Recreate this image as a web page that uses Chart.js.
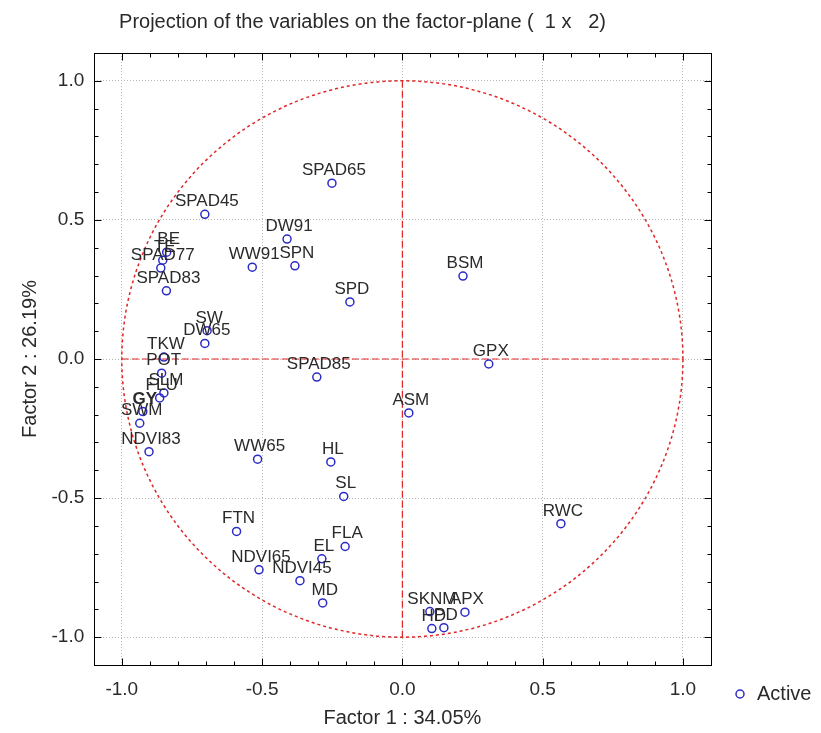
<!DOCTYPE html>
<html>
<head>
<meta charset="utf-8">
<script src="https://cdn.jsdelivr.net/npm/chart.js@4.4.1/dist/chart.umd.min.js"></script>
<style>
    html, body { margin: 0; padding: 0; background: #fff; }
    #wrap { width: 821px; height: 733px; }
</style>
</head>
<body>
<div id="wrap"><canvas id="pcaChart" width="821" height="733"></canvas></div>
<script>
// ====== Data ======
const varNames = ['SPAD65', 'SPAD45', 'DW91', 'WW91', 'SPN', 'BSM', 'SPD', 'BE', 'TE', 'SPAD77',
    'SPAD83', 'SW', 'DW65', 'TKW', 'POT', 'SLM', 'FLU', 'GY', 'SWM', 'NDVI83',
    'SPAD85', 'GPX', 'ASM', 'WW65', 'HL', 'SL', 'FTN', 'FLA', 'EL', 'NDVI65',
    'NDVI45', 'MD', 'RWC', 'SKNM', 'HD', 'PD', 'APX'];
const factor1 = [-0.251, -0.704, -0.411, -0.535, -0.383, 0.216, -0.187, -0.840, -0.854, -0.861,
    -0.841, -0.696, -0.704, -0.850, -0.858, -0.850, -0.865, -0.925, -0.936, -0.903,
    -0.305, 0.308, 0.023, -0.516, -0.255, -0.209, -0.591, -0.204, -0.287, -0.511,
    -0.365, -0.284, 0.565, 0.098, 0.105, 0.148, 0.223];
const factor2 = [0.632, 0.520, 0.431, 0.330, 0.335, 0.298, 0.205, 0.384, 0.355, 0.327,
    0.245, 0.102, 0.056, 0.007, -0.051, -0.122, -0.140, -0.189, -0.231, -0.333,
    -0.065, -0.018, -0.194, -0.360, -0.370, -0.494, -0.620, -0.674, -0.718, -0.758,
    -0.797, -0.877, -0.592, -0.908, -0.969, -0.966, -0.910];
const boldNames = ['GY'];
const tickValues = [-1.0, -0.5, 0.0, 0.5, 1.0];
const axisMin = -1.1;
const axisMax = 1.1;

const FONT = 'Arial, "Liberation Sans", sans-serif';
const TEXT = '#2a2a2a';
const RED = '#e02626';

// ====== Circle, reference lines, frame, ticks, legend ======
const pcaDecor = {
    id: 'pcaDecor',
    beforeDatasetsDraw(chart) {
        const { ctx, scales: { x, y } } = chart;
        const x0 = x.getPixelForValue(0), y0 = y.getPixelForValue(0);
        ctx.save();
        ctx.strokeStyle = RED;
        ctx.lineWidth = 1.2;
        ctx.setLineDash([7, 3]);
        ctx.beginPath();
        ctx.moveTo(x.getPixelForValue(-1), y0);
        ctx.lineTo(x.getPixelForValue(1), y0);
        ctx.moveTo(x0, y.getPixelForValue(1));
        ctx.lineTo(x0, y.getPixelForValue(-1));
        ctx.stroke();
        ctx.lineWidth = 1.5;
        ctx.setLineDash([3, 3]);
        ctx.beginPath();
        ctx.ellipse(x0, y0, x.getPixelForValue(1) - x0, y0 - y.getPixelForValue(1), 0, 0, Math.PI * 2);
        ctx.stroke();
        ctx.restore();
    },
    afterDatasetsDraw(chart) {
        const { ctx } = chart;
        const meta = chart.getDatasetMeta(0);
        ctx.save();
        ctx.fillStyle = TEXT;
        ctx.textAlign = 'center';
        ctx.textBaseline = 'alphabetic';
        meta.data.forEach((el, i) => {
            const bold = boldNames.includes(varNames[i]);
            ctx.font = (bold ? 'bold ' : '') + '17px ' + FONT;
            ctx.fillText(varNames[i], el.x + 2, el.y - 8);
        });
        ctx.restore();
    },
    afterDraw(chart) {
        const { ctx, chartArea: a, scales: { x, y } } = chart;
        ctx.save();
        // frame
        const L = Math.round(a.left) + 0.5, R = Math.round(a.right) + 0.5;
        const T = Math.round(a.top) + 0.5, B = Math.round(a.bottom) + 0.5;
        ctx.strokeStyle = '#000';
        ctx.lineWidth = 1;
        ctx.strokeRect(L, T, R - L, B - T);
        // inward tick marks every 0.1
        ctx.beginPath();
        for (let k = -11; k <= 11; k++) {
            const v = k / 10;
            const len = k % 5 === 0 ? 7 : 4;
            const px = Math.round(x.getPixelForValue(v)) + 0.5;
            const py = Math.round(y.getPixelForValue(v)) + 0.5;
            ctx.moveTo(px, B); ctx.lineTo(px, B - len);
            ctx.moveTo(px, T); ctx.lineTo(px, T + len);
            ctx.moveTo(L, py); ctx.lineTo(L + len, py);
            ctx.moveTo(R, py); ctx.lineTo(R - len, py);
        }
        ctx.stroke();
        // legend
        const lx = a.right + 29, ly = a.bottom + 29;
        ctx.strokeStyle = '#2b2bc8';
        ctx.lineWidth = 1.5;
        ctx.beginPath();
        ctx.arc(lx, ly, 4, 0, Math.PI * 2);
        ctx.stroke();
        ctx.fillStyle = TEXT;
        ctx.font = '20px ' + FONT;
        ctx.textAlign = 'left';
        ctx.textBaseline = 'middle';
        ctx.fillText(chart.data.datasets[0].label, lx + 17, ly);
        ctx.restore();
    }
};

const axisCommon = {
    min: axisMin,
    max: axisMax,
    afterBuildTicks: axis => { axis.ticks = tickValues.map(v => ({ value: v })); },
    grid: { color: '#b8b8b8', lineWidth: 1, drawTicks: false },
    border: { display: false, dash: [1, 2] },
};

new Chart(document.getElementById('pcaChart'), {
    type: 'scatter',
    data: {
        datasets: [{
            label: 'Active',
            data: varNames.map((n, i) => ({ x: factor1[i], y: factor2[i] })),
            pointStyle: 'circle',
            pointRadius: 4,
            pointBorderWidth: 1.5,
            pointBorderColor: '#2b2bc8',
            pointBackgroundColor: 'rgba(255,255,255,0)',
            showLine: false
        }]
    },
    options: {
        responsive: false,
        animation: false,
        layout: { padding: { left: 14, right: 110, top: 0, bottom: 0 } },
        plugins: {
            legend: { display: false },
            tooltip: { enabled: false },
            title: {
                display: true,
                text: 'Projection of the variables on the factor-plane (  1 x   2)',
                color: TEXT,
                font: { family: FONT, size: 20, weight: 'normal' },
                padding: { top: 10, bottom: 19 }
            }
        },
        scales: {
            x: {
                ...axisCommon,
                ticks: { color: TEXT, padding: 13.6, font: { family: FONT, size: 19 }, callback: v => v.toFixed(1) },
                title: { display: true, text: 'Factor 1 : 34.05%', color: TEXT, font: { family: FONT, size: 20, lineHeight: 1 }, padding: { top: -7, bottom: 5 } }
            },
            y: {
                ...axisCommon,
                ticks: { color: TEXT, padding: 9.5, font: { family: FONT, size: 19 }, callback: v => v.toFixed(1) },
                title: { display: true, text: 'Factor 2 : 26.19%', color: TEXT, font: { family: FONT, size: 20 }, padding: { top: 4, bottom: 0 } }
            }
        }
    },
    plugins: [pcaDecor]
});
</script>
</body>
</html>
